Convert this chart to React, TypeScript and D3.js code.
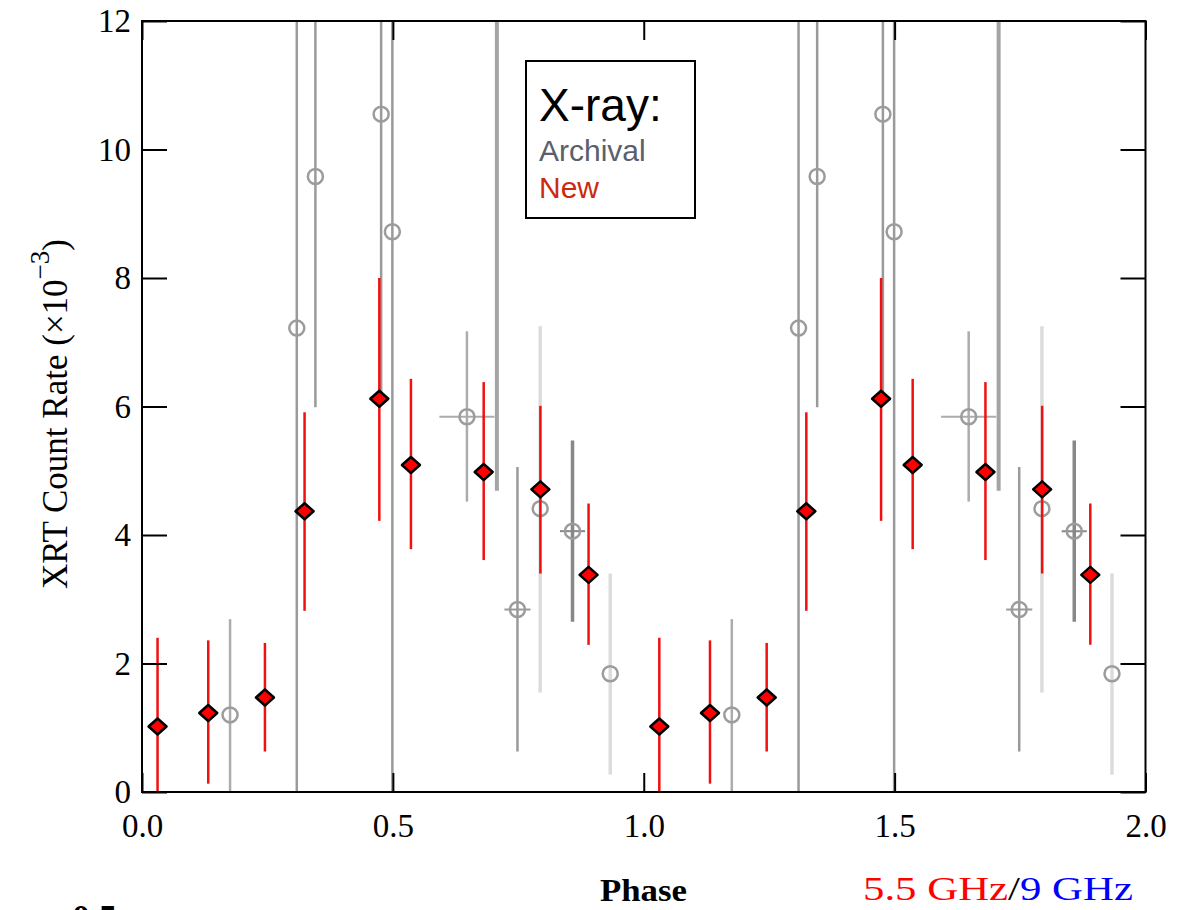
import React, { useEffect, useRef } from "react";
import * as d3 from "d3";

// New X-ray points (one phase cycle, drawn twice)
const newPhase = [0.031, 0.132, 0.245, 0.324, 0.473, 0.536, 0.681, 0.794, 0.89];
const newRate = [1.02, 1.23, 1.47, 4.37, 6.12, 5.09, 4.98, 4.71, 3.38];
const newHi = [2.4, 2.36, 2.32, 5.91, 8.0, 6.43, 6.38, 6.01, 4.49];
const newLo = [0, 0.13, 0.63, 2.82, 4.22, 3.78, 3.61, 3.4, 2.29];

// Archival X-ray points
const archPhase = [0.1755, 0.3085, 0.3456, 0.4766, 0.499, 0.6476, 0.7073, 0.7483, 0.7936, 0.858, 0.9332];
const archRate = [1.2, 7.22, 9.58, 10.55, 8.72, 5.84, 13.0, 2.84, 4.41, 4.06, 1.84];
const archHi = [2.69, 14, 14, 14, 14, 7.17, 16, 5.06, 7.25, 5.47, 3.4];
const archLo = [0, 0, 5.99, 6.1, 0, 4.52, 4.69, 0.63, 1.55, 2.65, 0.27];
const archPhaseErr = [0, 0, 0, 0, 0, 0.055, 0, 0.026, 0, 0.025, 0];
const archGroup = ["B", "A", "A", "A", "A", "B", "W", "A", "C", "D", "C"];

const cycles = [0, 1];
const xTicks = [0, 0.5, 1, 1.5, 2];
const yTicks = [0, 2, 4, 6, 8, 10, 12];

const groupStyle: Record<string, { color: string; width: number }> = {
  A: { color: "#9a9a9a", width: 2.5 },
  B: { color: "#acacac", width: 2.5 },
  C: { color: "#dcdcdc", width: 3.5 },
  D: { color: "#888888", width: 3.5 },
  W: { color: "#a4a4a4", width: 4 },
};

const SERIF = "'Liberation Serif', 'Times New Roman', serif";
const SANS = "'Liberation Sans', Arial, Helvetica, sans-serif";

export default function App() {
  const svgRef = useRef<SVGSVGElement>(null);

  useEffect(() => {
    const width = 1198;
    const height = 910;
    const margin = { top: 21, right: 52.5, bottom: 118, left: 142 };

    const svg = d3.select(svgRef.current);
    svg.selectAll("*").remove();
    svg.attr("width", width).attr("height", height);

    const x = d3.scaleLinear().domain([0, 2]).range([margin.left, width - margin.right]);
    const y = d3.scaleLinear().domain([0, 12]).range([height - margin.bottom, margin.top]);

    svg.append("defs").append("clipPath").attr("id", "plotclip")
      .append("rect")
      .attr("x", x(0)).attr("y", y(12))
      .attr("width", x(2) - x(0)).attr("height", y(0) - y(12));

    const plot = svg.append("g").attr("clip-path", "url(#plotclip)");

    // archival points
    const arch = archPhase.map((p, i) => ({
      p, v: archRate[i], hi: archHi[i], lo: archLo[i], xe: archPhaseErr[i], g: archGroup[i],
    }));
    cycles.forEach(c => {
      arch.forEach(d => {
        const st = groupStyle[d.g];
        const cx = x(d.p + c);
        plot.append("line")
          .attr("x1", cx).attr("x2", cx)
          .attr("y1", y(d.hi)).attr("y2", y(d.lo))
          .attr("stroke", st.color).attr("stroke-width", st.width);
        if (d.xe > 0) {
          plot.append("line")
            .attr("x1", x(d.p + c - d.xe)).attr("x2", x(d.p + c + d.xe))
            .attr("y1", y(d.v)).attr("y2", y(d.v))
            .attr("stroke", st.color).attr("stroke-width", 2);
        }
        plot.append("circle")
          .attr("cx", cx).attr("cy", y(d.v)).attr("r", 7.5)
          .attr("fill", "none").attr("stroke", "#9c9c9c").attr("stroke-width", 2.5);
      });
    });

    // new points
    const diamond = "M0,-8L9,0L0,8L-9,0Z";
    cycles.forEach(c => {
      newPhase.forEach((p, i) => {
        const cx = x(p + c);
        plot.append("line")
          .attr("x1", cx).attr("x2", cx)
          .attr("y1", y(newHi[i])).attr("y2", y(newLo[i]))
          .attr("stroke", "#f01010").attr("stroke-width", 2.5);
        plot.append("path")
          .attr("d", diamond)
          .attr("transform", `translate(${cx},${y(newRate[i])})`)
          .attr("fill", "#ff0000").attr("stroke", "#000").attr("stroke-width", 2.5)
          .attr("stroke-linejoin", "round");
      });
    });

    // axes
    const styleAxis = (g: any) => {
      g.select(".domain").remove();
      g.selectAll(".tick line").attr("stroke", "#000").attr("stroke-width", 2);
      g.selectAll("text")
        .attr("fill", "#000")
        .style("font-family", SERIF)
        .style("font-size", "33px");
    };

    svg.append("g")
      .attr("transform", `translate(0,${y(0)})`)
      .call(d3.axisBottom(x).tickValues(xTicks).tickSize(-19).tickPadding(22).tickFormat(d3.format(".1f")))
      .call(styleAxis);
    svg.append("g")
      .attr("transform", `translate(0,${y(12)})`)
      .call(d3.axisTop(x).tickValues(xTicks).tickSize(-19).tickFormat(() => ""))
      .call(styleAxis);
    svg.append("g")
      .attr("transform", `translate(${x(0)},0)`)
      .call(d3.axisLeft(y).tickValues(yTicks).tickSize(-25).tickPadding(11))
      .call(styleAxis);
    svg.append("g")
      .attr("transform", `translate(${x(2)},0)`)
      .call(d3.axisRight(y).tickValues(yTicks).tickSize(-25).tickFormat(() => ""))
      .call(styleAxis);

    // frame
    svg.append("rect")
      .attr("x", x(0)).attr("y", y(12))
      .attr("width", x(2) - x(0)).attr("height", y(0) - y(12))
      .attr("fill", "none").attr("stroke", "#000").attr("stroke-width", 2);

    // axis titles
    svg.append("text")
      .attr("x", 600).attr("y", 901)
      .attr("textLength", 87).attr("lengthAdjust", "spacingAndGlyphs")
      .style("font-family", SERIF).style("font-size", "32px").style("font-weight", "bold")
      .text("Phase");

    const yl = svg.append("text")
      .attr("transform", `translate(67,414) rotate(-90)`)
      .attr("text-anchor", "middle")
      .style("font-family", SERIF).style("font-size", "35px");
    yl.append("tspan").text("XRT Count Rate (×10");
    yl.append("tspan").attr("dy", -18).style("font-size", "27px").text("−3");
    yl.append("tspan").attr("dy", 18).text(")");

    // legend
    const lg = svg.append("g");
    lg.append("rect")
      .attr("x", 526).attr("y", 61).attr("width", 169).attr("height", 157)
      .attr("fill", "#fff").attr("stroke", "#000").attr("stroke-width", 2);
    lg.append("text").attr("x", 539).attr("y", 121)
      .style("font-family", SANS).style("font-size", "46px").attr("fill", "#000")
      .text("X-ray:");
    lg.append("text").attr("x", 539).attr("y", 161)
      .style("font-family", SANS).style("font-size", "30px").attr("fill", "#59606a")
      .text("Archival");
    lg.append("text").attr("x", 539).attr("y", 198)
      .style("font-family", SANS).style("font-size", "30px").attr("fill", "#cc2a0e")
      .text("New");

    // frequency label of the panel below
    const fr = svg.append("text")
      .attr("x", 863).attr("y", 900)
      .attr("textLength", 270).attr("lengthAdjust", "spacingAndGlyphs")
      .style("font-family", SERIF).style("font-size", "34px");
    fr.append("tspan").attr("fill", "#ff0000").text("5.5 GHz");
    fr.append("tspan").attr("fill", "#000").text("/");
    fr.append("tspan").attr("fill", "#0000ff").text("9 GHz");

    svg.append("text")
      .attr("x", 72).attr("y", 930)
      .style("font-family", SERIF).style("font-size", "36px").style("font-weight", "bold")
      .text("0.5");
  }, []);

  return (
    <div style={{ position: "absolute", left: 0, top: 0 }}>
      <svg ref={svgRef} style={{ display: "block", background: "#fff" }}></svg>
    </div>
  );
}
